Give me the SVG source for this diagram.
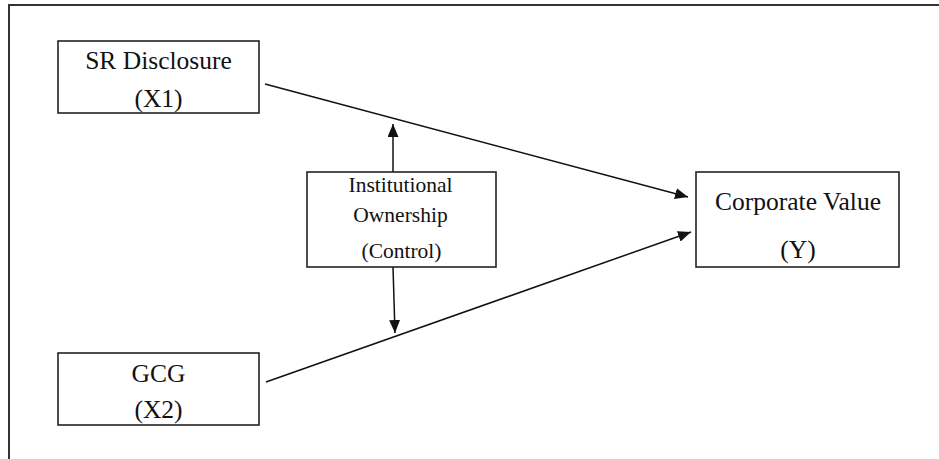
<svg xmlns="http://www.w3.org/2000/svg" width="939" height="459" viewBox="0 0 939 459">
<defs>
<style>
.box{fill:#fff;stroke:#222;stroke-width:1.6}
.t{font-family:"Liberation Serif","Times New Roman",serif;font-size:25.5px;fill:#111;text-anchor:middle}
.s{font-size:21.5px}
.c{stroke:#111;stroke-width:1.5;fill:none}
</style>
<marker id="ah" viewBox="0 0 13 11" refX="13" refY="5.5" markerWidth="13" markerHeight="11" markerUnits="userSpaceOnUse" orient="auto">
<path d="M0,0 L13,5.5 L0,11 Z" fill="#111"/>
</marker>
</defs>
<rect width="939" height="459" fill="#fff"/>
<path d="M9,459 V5 H939" fill="none" stroke="#333" stroke-width="2"/>
<g id="connectors">
<line class="c" x1="265" y1="84" x2="688" y2="197" marker-end="url(#ah)"/>
<line class="c" x1="266" y1="382" x2="691" y2="232" marker-end="url(#ah)"/>
<line class="c" x1="393" y1="172" x2="393" y2="124" marker-end="url(#ah)"/>
<line class="c" x1="393" y1="267" x2="395" y2="333" marker-end="url(#ah)"/>
</g>
<g id="sr">
<rect class="box" x="58" y="41" width="201" height="72"/>
<text class="t" x="158.5" y="69">SR Disclosure</text>
<text class="t" x="158.5" y="107">(X1)</text>
</g>
<g id="gcg">
<rect class="box" x="58" y="353" width="201" height="72"/>
<text class="t" x="158.5" y="382">GCG</text>
<text class="t" x="158.5" y="418">(X2)</text>
</g>
<g id="io">
<rect class="box" x="307" y="172" width="189" height="95"/>
<text class="t s" x="400.5" y="192">Institutional</text>
<text class="t s" x="400.5" y="222">Ownership</text>
<text class="t s" x="401.5" y="258">(Control)</text>
</g>
<g id="cv">
<rect class="box" x="696" y="172" width="203" height="95"/>
<text class="t" x="798" y="210">Corporate Value</text>
<text class="t" x="798" y="258">(Y)</text>
</g>
</svg>
